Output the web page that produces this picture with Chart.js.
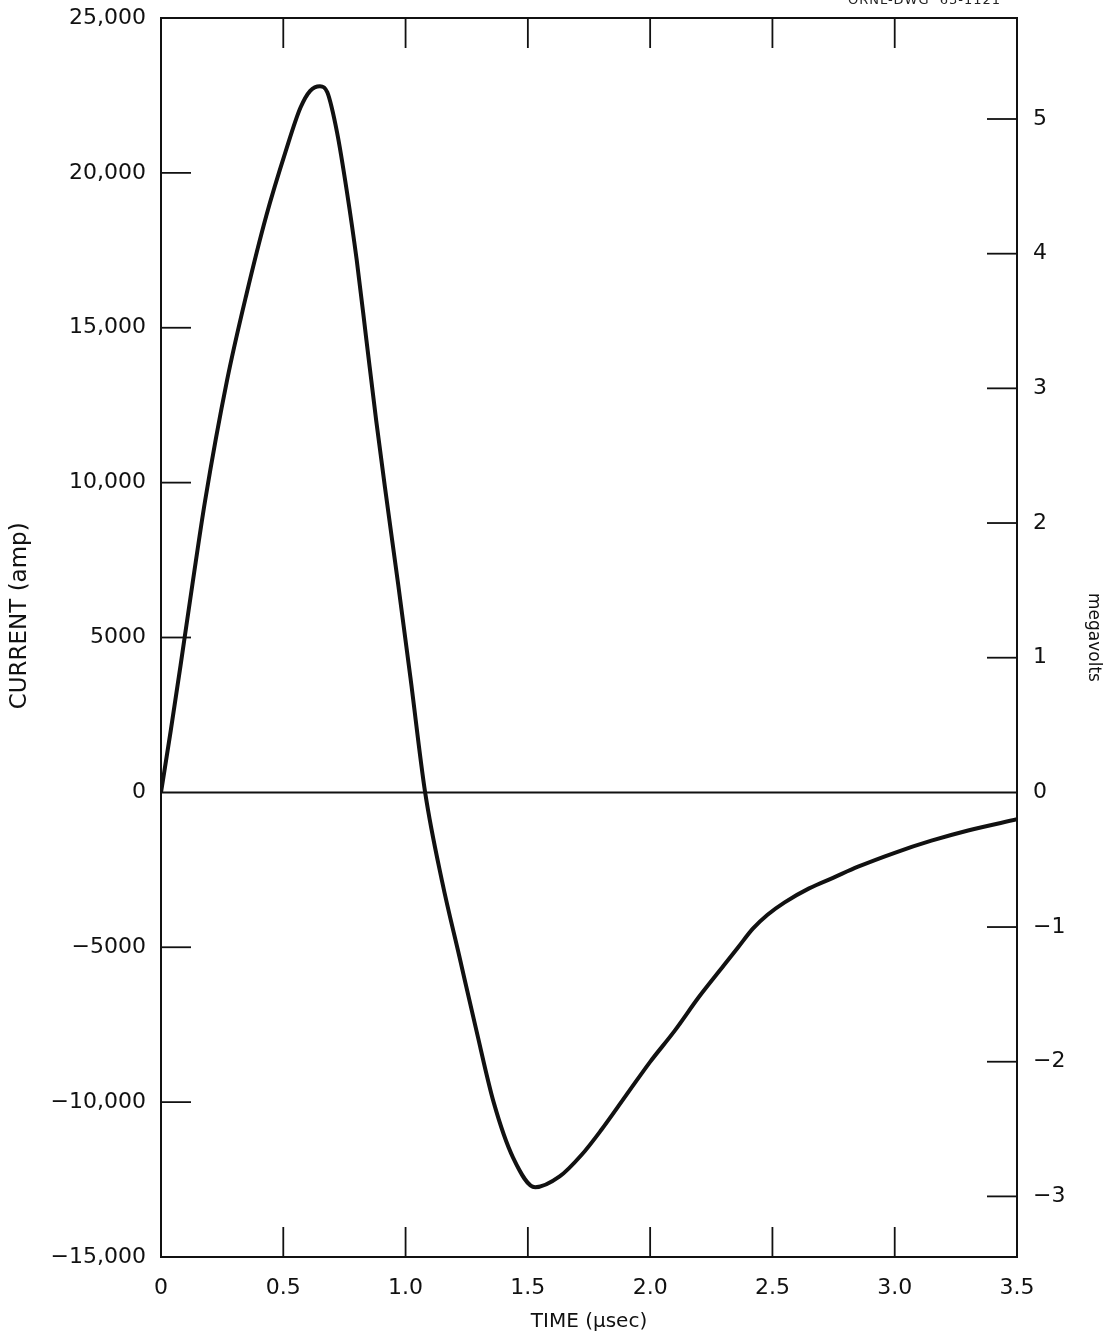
<!DOCTYPE html>
<html>
<head>
<meta charset="utf-8">
<script src="https://cdn.jsdelivr.net/npm/chart.js@4.4.0/dist/chart.umd.min.js"></script>
<style>
  html, body { margin: 0; padding: 0; background: #fff; }
  #wrap { position: relative; width: 1104px; height: 1334px; overflow: hidden; }
  #dwg { position: absolute; right: 103px; top: -8px; font-family: "DejaVu Sans", sans-serif; font-size: 13px; color: #222; letter-spacing: 1px; word-spacing: 5px; }
</style>
</head>
<body>
<div id="wrap">
  <canvas id="c" width="1104" height="1334"></canvas>
  <div id="dwg">ORNL-DWG 63-1121</div>
</div>
<script>
// ---- data ----
const timeUs = [0, 0.04, 0.08, 0.13, 0.18, 0.27, 0.35, 0.43, 0.51, 0.57, 0.61, 0.65, 0.68, 0.72, 0.76, 0.80, 0.84, 0.88, 0.92, 0.97, 1.02, 1.08, 1.15, 1.22, 1.29, 1.36, 1.44, 1.53, 1.63, 1.72, 1.80, 1.90, 2.00, 2.10, 2.20, 2.30, 2.36, 2.42, 2.48, 2.55, 2.65, 2.75, 2.85, 3.00, 3.15, 3.30, 3.50];
const currentAmp = [0, 2000, 4100, 6800, 9400, 13300, 16100, 18600, 20700, 22100, 22650, 22800, 22600, 21300, 19400, 17200, 14600, 12000, 9600, 6700, 3700, 0, -2900, -5300, -7700, -10000, -11800, -12750, -12400, -11700, -10900, -9800, -8700, -7700, -6600, -5600, -5000, -4400, -3950, -3550, -3100, -2750, -2400, -1950, -1560, -1230, -870];

const xTickValues = [0, 0.5, 1.0, 1.5, 2.0, 2.5, 3.0, 3.5];
const xTickLabels = ["0", "0.5", "1.0", "1.5", "2.0", "2.5", "3.0", "3.5"];
const yTickValues = [25000, 20000, 15000, 10000, 5000, 0, -5000, -10000, -15000];
const yTickLabels = ["25,000", "20,000", "15,000", "10,000", "5000", "0", "\u22125000", "\u221210,000", "\u221215,000"];
const mvTickValues = [5, 4, 3, 2, 1, 0, -1, -2, -3];
const mvTickLabels = ["5", "4", "3", "2", "1", "0", "\u22121", "\u22122", "\u22123"];
const leftTitle = "CURRENT (amp)";

const FONT = "'DejaVu Sans', sans-serif";
const INK = "#111";

const framePlugin = {
  id: 'frame',
  afterDatasetsDraw(chart) {
    const ctx = chart.ctx;
    const a = chart.chartArea;
    const xs = chart.scales.x, ys = chart.scales.y, ms = chart.scales.mv;
    ctx.save();
    ctx.strokeStyle = INK;
    ctx.lineWidth = 2;
    ctx.lineCap = 'butt';
    ctx.strokeRect(a.left, a.top, a.right - a.left, a.bottom - a.top);
    const y0 = ys.getPixelForValue(0);
    ctx.beginPath(); ctx.moveTo(a.left, y0); ctx.lineTo(a.right, y0); ctx.stroke();
    const L = 30;
    ctx.lineWidth = 1.8;
    yTickValues.forEach(v => {
      if (v === 25000 || v === -15000 || v === 0) return;
      const y = ys.getPixelForValue(v);
      ctx.beginPath(); ctx.moveTo(a.left, y); ctx.lineTo(a.left + L, y); ctx.stroke();
    });
    mvTickValues.forEach(v => {
      if (v === 0) return;
      const y = ms.getPixelForValue(v);
      ctx.beginPath(); ctx.moveTo(a.right - L, y); ctx.lineTo(a.right, y); ctx.stroke();
    });
    xTickValues.forEach(v => {
      if (v === 0 || v === 3.5) return;
      const x = xs.getPixelForValue(v);
      ctx.beginPath(); ctx.moveTo(x, a.top); ctx.lineTo(x, a.top + L); ctx.stroke();
      ctx.beginPath(); ctx.moveTo(x, a.bottom); ctx.lineTo(x, a.bottom - L); ctx.stroke();
    });
    // left axis title, centred where the reference places it
    ctx.translate(20, ys.getPixelForValue(5700));
    ctx.rotate(-Math.PI / 2);
    ctx.fillStyle = INK;
    ctx.font = "23px " + FONT;
    ctx.textAlign = 'center';
    ctx.textBaseline = 'middle';
    ctx.fillText(leftTitle, 0, 0);
    ctx.restore();
  }
};

const fitVertical = w => s => { s.width = w; s.paddingTop = 0; s.paddingBottom = 0; };

new Chart(document.getElementById('c'), {
  type: 'line',
  data: {
    datasets: [{
      data: timeUs.map((t, i) => ({ x: t, y: currentAmp[i] })),
      borderColor: INK,
      borderWidth: 4,
      pointRadius: 0,
      fill: false,
      cubicInterpolationMode: 'monotone',
      yAxisID: 'y'
    }]
  },
  options: {
    responsive: false,
    animation: false,
    layout: { autoPadding: false, padding: { top: 18, left: 0, right: 0, bottom: 0 } },
    plugins: { legend: { display: false }, tooltip: { enabled: false } },
    scales: {
      x: {
        type: 'linear', min: 0, max: 3.5,
        grid: { display: false, drawTicks: false },
        border: { display: false },
        afterBuildTicks: s => { s.ticks = xTickValues.map(v => ({ value: v })); },
        afterFit: s => { s.height = 77; s.paddingLeft = 0; s.paddingRight = 0; },
        ticks: {
          color: INK, padding: 18, maxRotation: 0, autoSkip: false,
          font: { family: FONT, size: 22 },
          callback: (v, i) => xTickLabels[i]
        },
        title: { display: true, text: 'TIME (\u03bcsec)', color: INK, font: { family: FONT, size: 20 }, padding: { top: 2, bottom: 0 } }
      },
      y: {
        type: 'linear', position: 'left', min: -15000, max: 25000,
        grid: { display: false, drawTicks: false },
        border: { display: false },
        afterBuildTicks: s => { s.ticks = yTickValues.map(v => ({ value: v })); },
        afterFit: fitVertical(161),
        ticks: {
          color: INK, padding: 15, autoSkip: false,
          font: { family: FONT, size: 22 },
          callback: (v, i) => yTickLabels[i]
        },
        title: { display: false }
      },
      mv: {
        type: 'linear', position: 'right', min: -3.45, max: 5.75,
        grid: { display: false, drawTicks: false },
        border: { display: false },
        afterBuildTicks: s => { s.ticks = mvTickValues.map(v => ({ value: v })); },
        afterFit: fitVertical(87),
        ticks: {
          color: INK, padding: 16, autoSkip: false,
          font: { family: FONT, size: 22 },
          callback: (v, i) => mvTickLabels[i]
        },
        title: { display: true, text: 'megavolts', color: INK, font: { family: FONT, size: 17 }, padding: { top: 0, bottom: 4 } }
      }
    }
  },
  plugins: [framePlugin]
});
</script>
</body>
</html>
